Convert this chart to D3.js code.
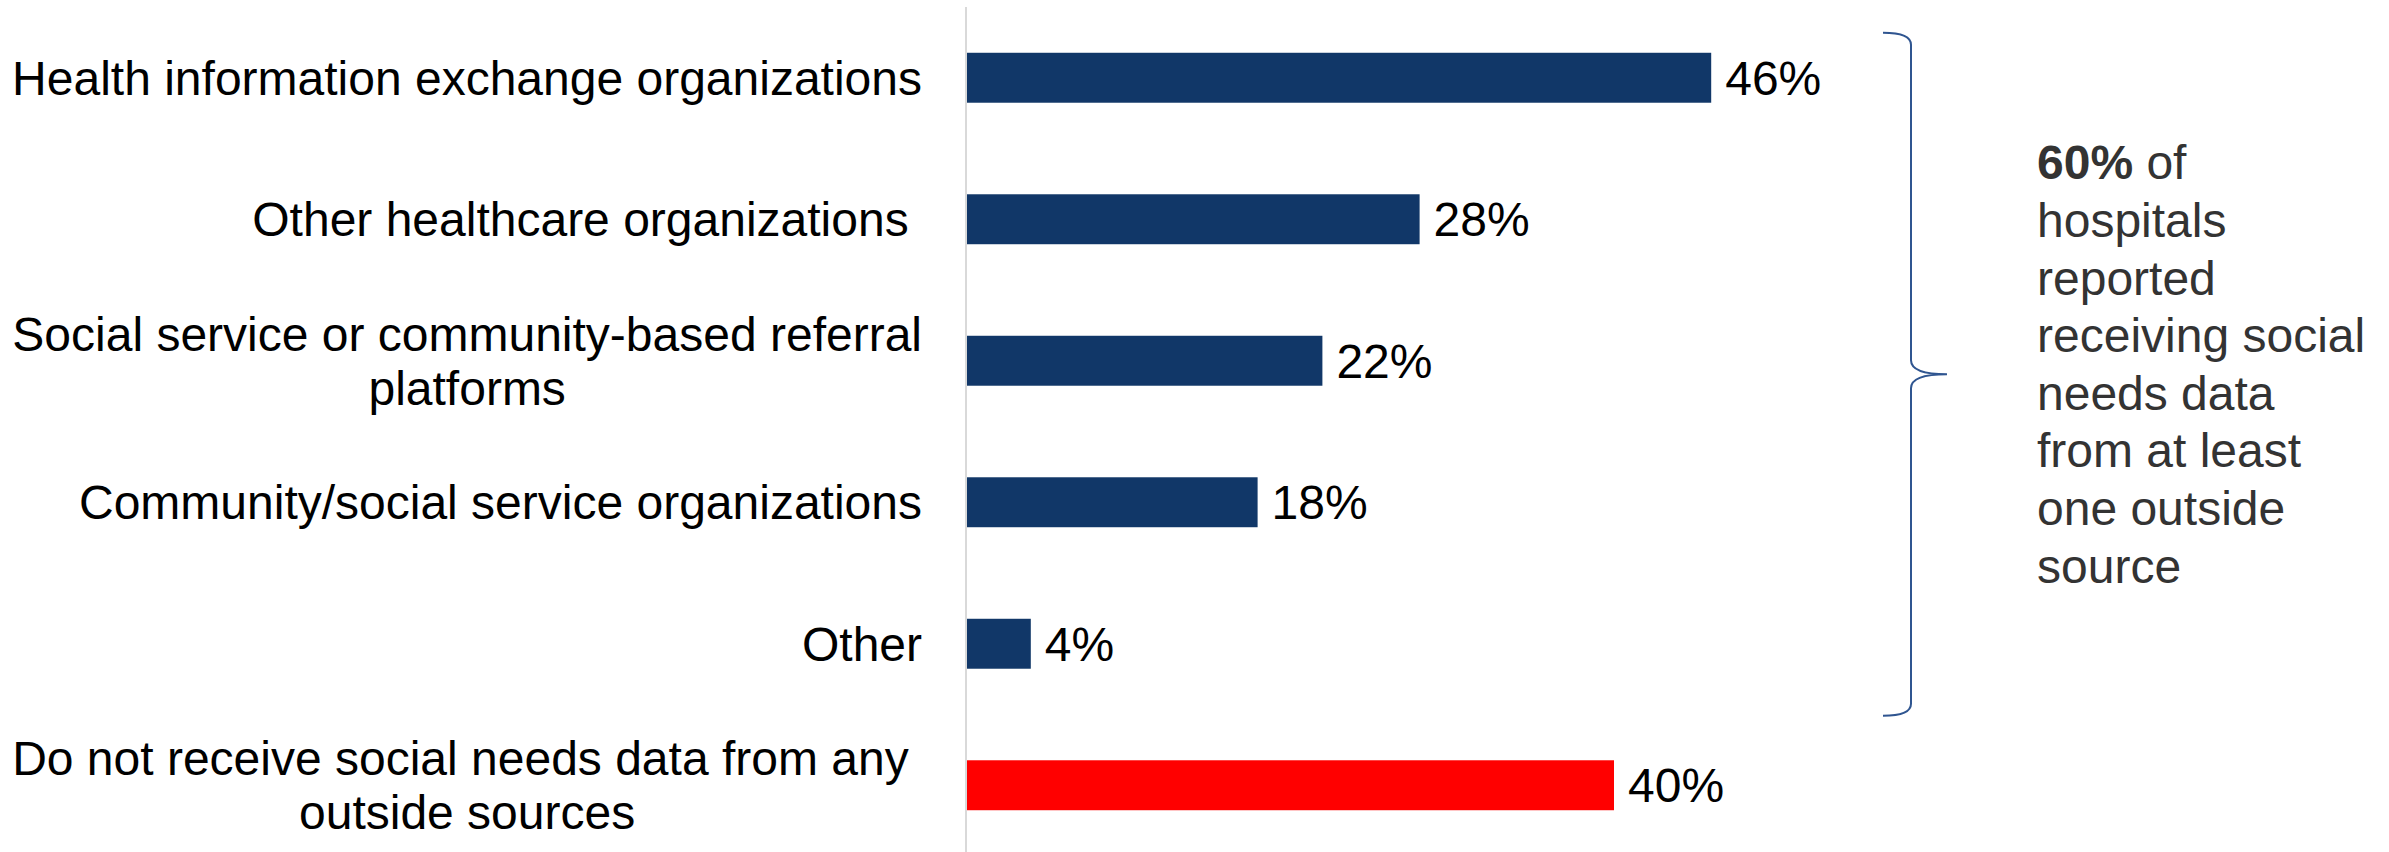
<!DOCTYPE html>
<html>
<head>
<meta charset="utf-8">
<script src="https://cdn.jsdelivr.net/npm/d3@7"></script>
<style>
  html, body { margin: 0; padding: 0; background: #ffffff; }
  svg { display: block; }
  text { font-family: "Liberation Sans", Arial, sans-serif; white-space: pre; }
</style>
</head>
<body>
<svg id="chart" width="2389" height="852"></svg>
<script>
// Sources of social needs data received by hospitals (share of hospitals)
const categories = [
  ["Health information exchange organizations"],
  ["Other healthcare organizations "],
  ["Social service or community-based referral", "platforms"],
  ["Community/social service organizations"],
  ["Other"],
  ["Do not receive social needs data from any ", "outside sources"]
];
const values = [46, 28, 22, 18, 4, 40];
const barColors = ["#113768", "#113768", "#113768", "#113768", "#113768", "#ff0000"];
const noteLines = [
  [{ t: "60%", bold: true }, { t: " of", bold: false }],
  [{ t: "hospitals" }],
  [{ t: "reported" }],
  [{ t: "receiving social" }],
  [{ t: "needs data" }],
  [{ t: "from at least" }],
  [{ t: "one outside" }],
  [{ t: "source" }]
];

const svg = d3.select("#chart");
const fontSize = 48;
const ids = d3.range(categories.length);

const x = d3.scaleLinear().domain([0, 50]).range([966, 1776]);
const y = d3.scaleBand()
  .domain(ids)
  .range([7, 856])
  .paddingInner(0.647)
  .paddingOuter(0.3235);

// category axis line
svg.append("line")
  .attr("x1", x(0)).attr("x2", x(0))
  .attr("y1", 7).attr("y2", 852)
  .attr("stroke", "#d9d9d9")
  .attr("stroke-width", 2);

// bars
svg.append("g").selectAll("rect")
  .data(ids)
  .join("rect")
  .attr("x", x(0) + 1)
  .attr("y", i => y(i))
  .attr("width", i => x(values[i]) - x(0) - 1)
  .attr("height", y.bandwidth())
  .attr("fill", i => barColors[i]);

// value labels
svg.append("g").selectAll("text")
  .data(ids)
  .join("text")
  .attr("x", i => x(values[i]) + 14)
  .attr("y", i => y(i) + y.bandwidth() / 2)
  .attr("dy", "0.35em")
  .attr("font-size", fontSize)
  .attr("fill", "#000")
  .text(i => values[i] + "%");

// category labels: block right-aligned, multi-line blocks centred line by line
const labelRight = 922;
const lineGap = 54;
const labelG = svg.append("g");
ids.forEach(i => {
  const lines = categories[i];
  const cy = y(i) + y.bandwidth() / 2;
  const g = labelG.append("g");
  const texts = lines.map((ln, k) => g.append("text")
    .attr("y", cy + (k - (lines.length - 1) / 2) * lineGap)
    .attr("dy", "0.35em")
    .attr("font-size", fontSize)
    .attr("fill", "#000")
    .text(ln));
  const widths = texts.map(t => t.node().getComputedTextLength());
  const blockW = d3.max(widths);
  const cx = labelRight - blockW / 2;
  texts.forEach(t => t.attr("x", cx).attr("text-anchor", "middle"));
});

// brace grouping the five sources
const yTop = y(0) - 20, yBot = y(4) + y.bandwidth() + 47;
const yMid = (yTop + yBot) / 2;
const bx0 = 1883, bx1 = 1911, bx2 = 1947;
const brace = d3.path();
brace.moveTo(bx0, yTop);
brace.quadraticCurveTo(bx1, yTop, bx1, yTop + 12);
brace.lineTo(bx1, yMid - 14);
brace.quadraticCurveTo(bx1, yMid, bx2, yMid);
brace.quadraticCurveTo(bx1, yMid, bx1, yMid + 14);
brace.lineTo(bx1, yBot - 12);
brace.quadraticCurveTo(bx1, yBot, bx0, yBot);
svg.append("path")
  .attr("d", brace.toString())
  .attr("fill", "none")
  .attr("stroke", "#2f5590")
  .attr("stroke-width", 2);

// note text
const note = svg.append("text")
  .attr("font-size", fontSize)
  .attr("fill", "#333333");
const noteStep = 57.6;
const noteTop = yMid - 10 - (noteLines.length - 1) / 2 * noteStep;
noteLines.forEach((parts, k) => {
  parts.forEach((p, j) => {
    const ts = note.append("tspan")
      .attr("font-weight", p.bold ? "bold" : "normal")
      .text(p.t);
    if (j === 0) ts.attr("x", 2037).attr("y", noteTop + k * noteStep).attr("dy", "0.35em");
  });
});
</script>
</body>
</html>
